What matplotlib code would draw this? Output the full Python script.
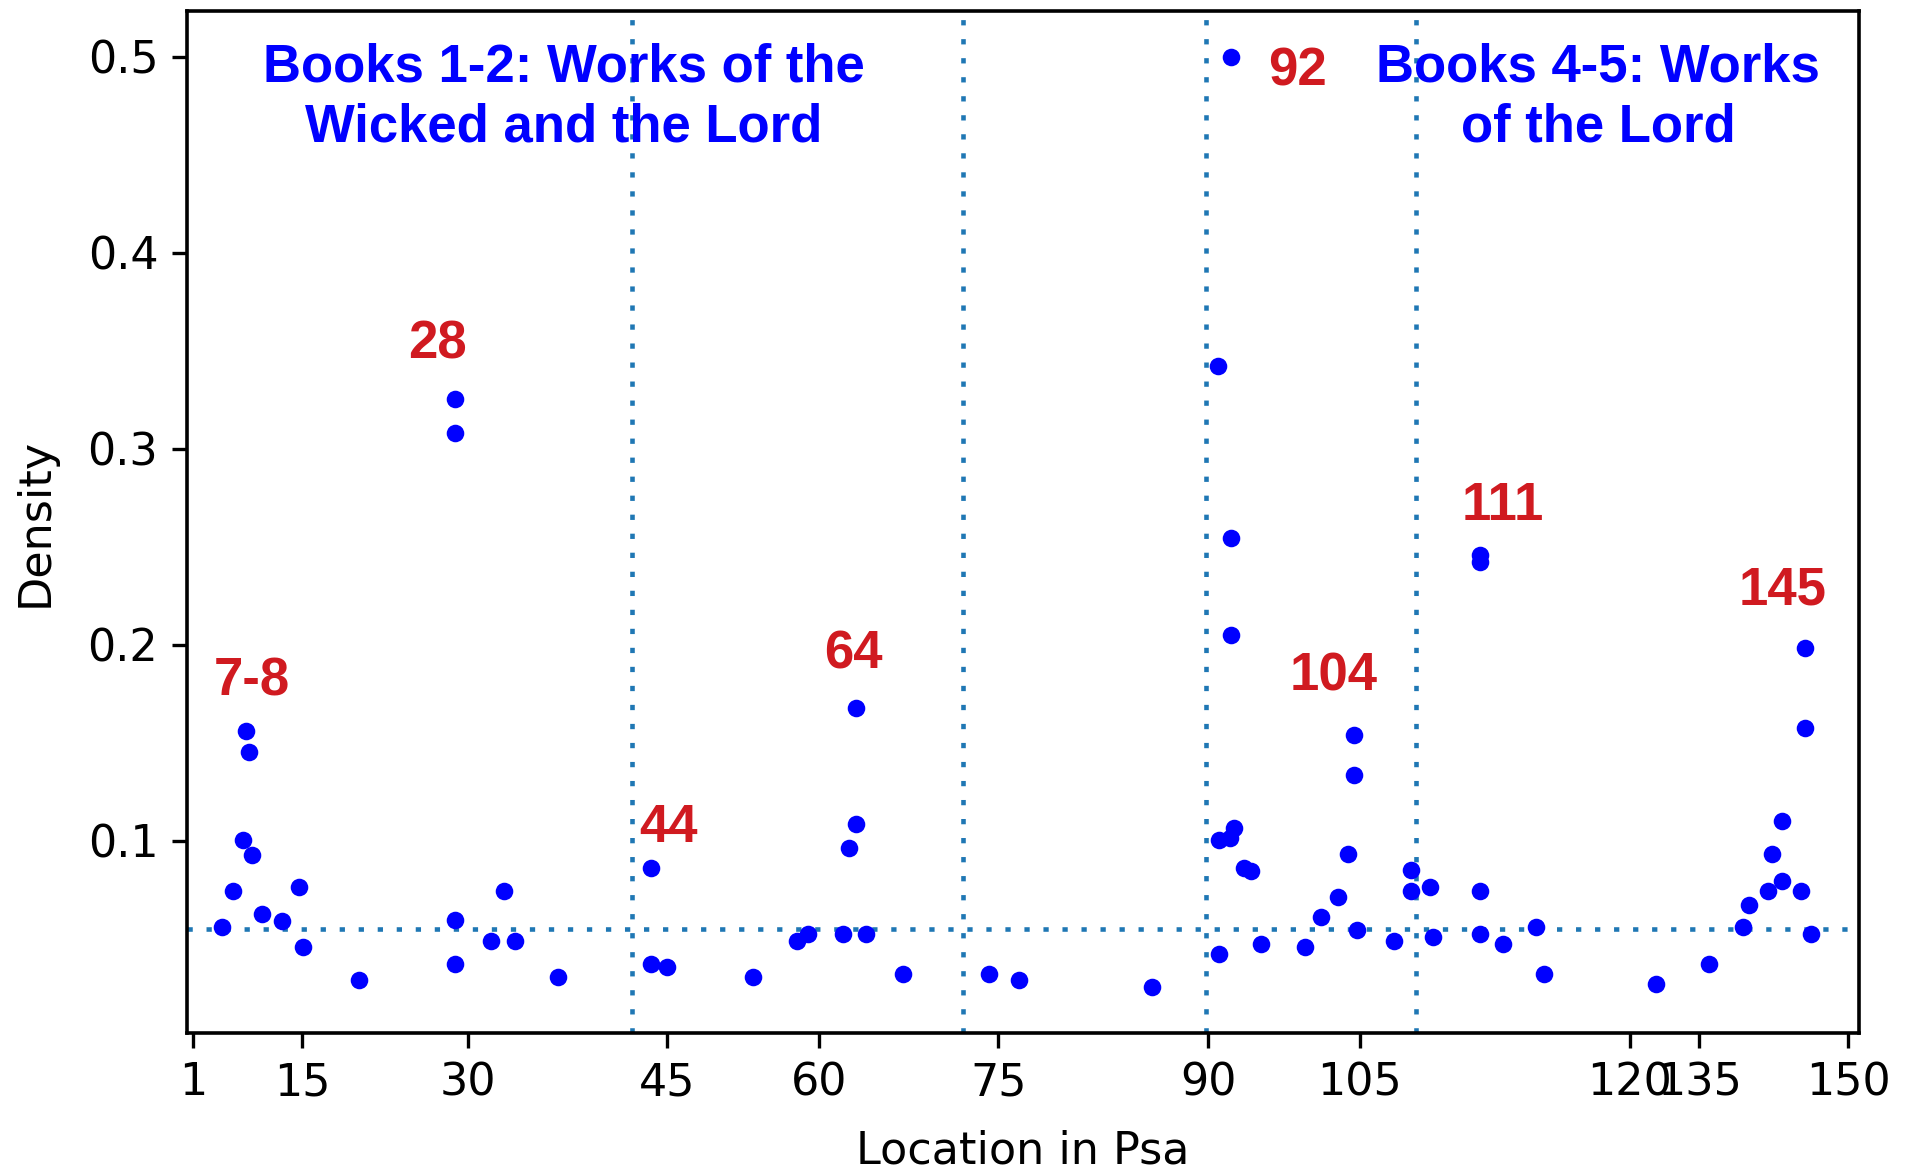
import matplotlib
matplotlib.use("Agg")
import matplotlib.pyplot as plt

# x axis: location (cumulative position within the Psalter), y: density
tick_pos = [1, 163, 410, 706, 932, 1198, 1510, 1735, 2136, 2239, 2461]
tick_labels = ["1", "15", "30", "45", "60", "75", "90", "105", "120", "135", "150"]

loc = [80, 85, 75, 89, 60, 45, 104, 134, 159, 164, 248,
       390, 390, 390, 390, 444, 464, 479, 543,
       681, 681, 706, 834, 898, 915, 967, 1001, 986, 986, 976, 1056,
       1184, 1229, 1426,
       1525, 1525, 1524, 1542, 1548, 1544, 1544, 1544, 1563, 1573, 1588,
       1653, 1677, 1702, 1717, 1727, 1727, 1731, 1785, 1811, 1811, 1839, 1844,
       1914, 1914, 1914, 1914, 1948, 1997, 2008,
       2175, 2254, 2304, 2313, 2342, 2362, 2348, 2362, 2391, 2406, 2396, 2396]
density = [0.1558, 0.1454, 0.1003, 0.0930, 0.0744, 0.0561, 0.0626, 0.0590, 0.0763, 0.0457, 0.0292,
           0.0595, 0.0374, 0.3253, 0.3078, 0.0489, 0.0744, 0.0489, 0.0306,
           0.0862, 0.0374, 0.0357, 0.0306, 0.0489, 0.0527, 0.0527, 0.0527, 0.1675, 0.1086, 0.0964, 0.0323,
           0.0323, 0.0289, 0.0255,
           0.0425, 0.1003, 0.3423, 0.1012, 0.1066, 0.5000, 0.2542, 0.2049, 0.0862, 0.0847, 0.0472,
           0.0459, 0.0612, 0.0714, 0.0932, 0.1539, 0.1335, 0.0544, 0.0489, 0.0850, 0.0744, 0.0762, 0.0510,
           0.0744, 0.0527, 0.2458, 0.2422, 0.0472, 0.0561, 0.0323,
           0.0272, 0.0374, 0.0558, 0.0675, 0.0744, 0.0795, 0.0932, 0.1100, 0.0744, 0.0527, 0.1573, 0.1981]

book_bounds = [654, 1146, 1506, 1818]
mean_density = 0.055

peak_labels = ["7-8", "28", "44", "64", "92", "104", "111", "145"]
peak_x = [88, 365, 664, 983, 1642, 1696, 1948, 2363]
peak_y = [0.1743, 0.3462, 0.0994, 0.1881, 0.4850, 0.1768, 0.2636, 0.2207]
peak_ha = ["center", "center", "left", "center", "center", "center", "center", "center"]

headings = ["Books 1-2: Works of the\nWicked and the Lord", "Books 4-5: Works\nof the Lord"]
heading_x = [552, 2089]
heading_y = [0.507, 0.507]

fig = plt.figure(figsize=(19.08, 11.68), dpi=100)
ax = fig.add_axes([0.0979, 0.1156, 0.8762, 0.8746])

dots = (0, (1.15, 3.0))
for b in book_bounds:
    ax.axvline(b, color="#1f77b4", lw=3.3, linestyle=dots, zorder=1)
ax.axhline(mean_density, color="#1f77b4", lw=3.3, linestyle=dots, zorder=1)

ax.scatter(loc, density, s=160, color="#0000ff", linewidths=0, zorder=3)

for t, x, y, ha in zip(peak_labels, peak_x, peak_y, peak_ha):
    ax.text(x, y, t, color="#d01a20", fontsize=38, fontweight="bold",
            family="Liberation Sans", ha=ha, va="baseline", zorder=4)

for t, x, y in zip(headings, heading_x, heading_y):
    ax.text(x, y, t, color="#0000ff", fontsize=38, fontweight="bold",
            family="Liberation Sans", ha="center", va="top", linespacing=1.25, zorder=4)

ax.set_xlim(-8, 2476)
ax.set_ylim(0.002, 0.523)
ax.set_xticks(tick_pos)
ax.set_xticklabels(tick_labels)
ax.set_yticks([0.1, 0.2, 0.3, 0.4, 0.5])
ax.set_yticklabels(["0.1", "0.2", "0.3", "0.4", "0.5"])
ax.tick_params(axis="both", labelsize=32, length=10.5, width=2.4, pad=10)
for sp in ax.spines.values():
    sp.set_linewidth(2.6)

ax.set_xlabel("Location in Psa", fontsize=32, labelpad=18)
ax.set_ylabel("Density", fontsize=32, labelpad=22)

fig.savefig("out.png", dpi=100, facecolor="white")
